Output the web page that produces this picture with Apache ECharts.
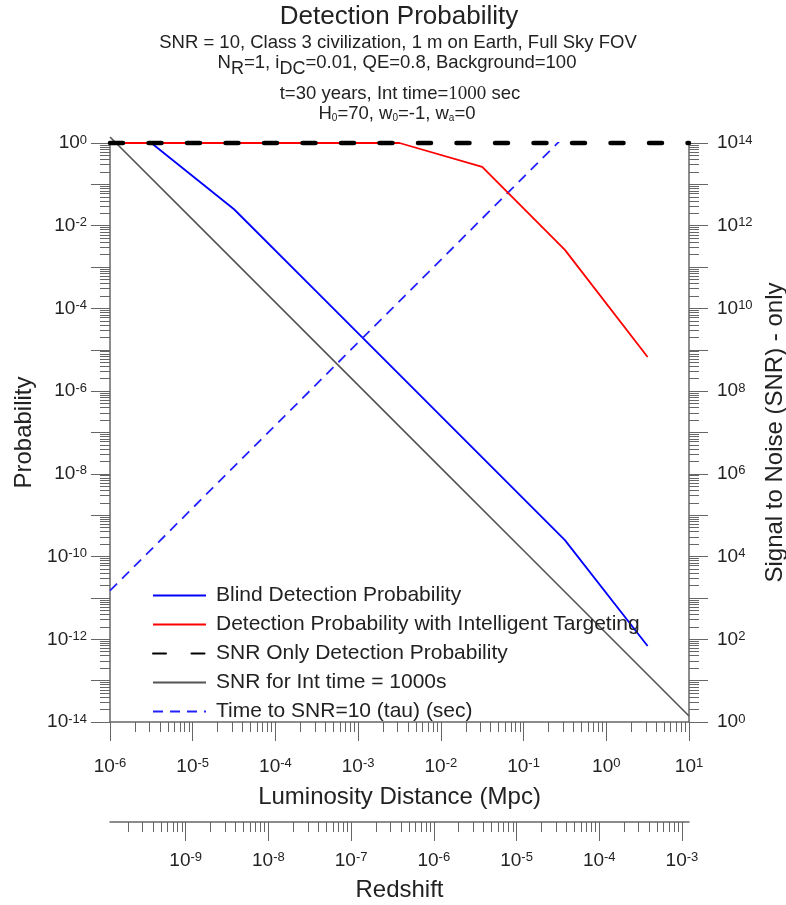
<!DOCTYPE html>
<html><head><meta charset="utf-8">
<script src="https://cdn.jsdelivr.net/npm/echarts@6/dist/echarts.min.js"></script>
<style>html,body{margin:0;padding:0;background:#fff}#c{width:786px;height:905px}</style>
</head><body><div id="c"></div>
<script>
// ---------------- data ----------------
const distance      = [1e-6, 3.16e-6, 3.16e-5, 3.16e-4, 3.16e-3, 3.16e-2, 0.316, 3.16];   // Mpc
const blindProb     = [1, 1, 0.025, 2.5e-4, 2.5e-6, 2.5e-8, 2.5e-10, 6.9e-13];
const targetedProb  = [1, 1, 1, 1, 1, 0.263, 2.6e-3, 6.7e-6];
const decadeDistance= [1e-6, 1e-5, 1e-4, 1e-3, 1e-2, 1e-1, 1, 10];                     // Mpc
const snrOnlyProb   = [1, 1, 1, 1, 1, 1, 1, 1];
const snrInt1000    = [1.4e14, 1.4e12, 1.4e10, 1.4e8, 1.4e6, 1.4e4, 140, 1.4];
const tauSec        = [1.5e3, 1.5e5, 1.5e7, 1.5e9, 1.5e11, 1.5e13, 1.5e15, 1.5e17];

// tick exponents (labels are 10^n)
const distExp     = [-6, -5, -4, -3, -2, -1, 0, 1];
const probExp     = [-14, -13, -12, -11, -10, -9, -8, -7, -6, -5, -4, -3, -2, -1, 0];
const probLabExp  = [-14, -12, -10, -8, -6, -4, -2, 0];
const snrExp      = [0, 1, 2, 3, 4, 5, 6, 7, 8, 9, 10, 11, 12, 13, 14];
const snrLabExp   = [0, 2, 4, 6, 8, 10, 12, 14];
const zExp        = [-9, -8, -7, -6, -5, -4, -3];
const zRangeExp   = [-9.915, -2.915];

const seriesNames = [
  'Blind Detection Probability',
  'Detection Probability with Intelligent Targeting',
  'SNR Only Detection Probability',
  'SNR for Int time = 1000s',
  'Time to SNR=10 (tau) (sec)'
];

// ---------------- helpers ----------------
const FONT = "'Liberation Sans', Arial, sans-serif";
const AXC = '#666';
const TXT = '#222';
function minorExps(lo, hi) {
  const out = [];
  for (let n = Math.floor(lo); n < hi; n++)
    for (let k = 2; k <= 9; k++) { const v = n + Math.log10(k); if (v > lo && v < hi) out.push(v); }
  return out;
}
function pairs(xs, ys) { return xs.map((x, i) => [x, ys[i]]); }
const labelRich = {
  b: { fontSize: 19, fontFamily: FONT, color: TXT, lineHeight: 19, padding: [5, 0, 0, 0], verticalAlign: 'bottom' },
  s: { fontSize: 13, fontFamily: FONT, color: TXT, lineHeight: 14, verticalAlign: 'top' }
};
const powFmt = v => '{b|10}{s|' + Math.round(v) + '}';

function majorAxis(base, ticks, labels, margin) {
  return Object.assign({
    type: 'value', show: true,
    axisLine: { show: true, onZero: false, lineStyle: { color: AXC, width: 1.5 } },
    axisTick: { show: true, inside: false, length: 19, customValues: ticks, lineStyle: { color: AXC, width: 1 } },
    axisLabel: { show: true, customValues: labels, formatter: powFmt, rich: labelRich, margin: margin },
    splitLine: { show: false }, minorTick: { show: false }
  }, base);
}
function minorAxis(base, ticks) {
  return Object.assign({
    type: 'value', show: true,
    axisLine: { show: false, onZero: false },
    axisTick: { show: true, inside: false, length: 10, customValues: ticks, lineStyle: { color: AXC, width: 1 } },
    axisLabel: { show: false },
    splitLine: { show: false }
  }, base);
}

const chart = echarts.init(document.getElementById('c'), null, { renderer: 'canvas' });

const option = {
  animation: false,
  backgroundColor: '#fff',
  textStyle: { fontFamily: FONT },
  grid: [
    { left: 110, top: 143, width: 579, height: 579, containLabel: false, outerBoundsMode: 'none' },
    { left: 110, top: 821, width: 579, height: 1, containLabel: false, outerBoundsMode: 'none' }
  ],
  xAxis: [
    // 0: data axis (log) for luminosity distance
    { type: 'log', gridIndex: 0, min: 1e-6, max: 10, show: false, axisLine: { onZero: false } },
    // 1: visible decade axis
    majorAxis({ gridIndex: 0, position: 'bottom', min: distExp[0], max: distExp[distExp.length - 1],
      name: 'Luminosity Distance (Mpc)', nameLocation: 'middle', nameGap: 63,
      nameTextStyle: { fontSize: 24, color: TXT, fontFamily: FONT } }, distExp, distExp, 35),
    // 2: minor ticks
    minorAxis({ gridIndex: 0, position: 'bottom', min: distExp[0], max: distExp[distExp.length - 1] },
      minorExps(distExp[0], distExp[distExp.length - 1])),
    // 3: redshift axis
    majorAxis({ gridIndex: 1, position: 'bottom', min: zRangeExp[0], max: zRangeExp[1],
      name: 'Redshift', nameLocation: 'middle', nameGap: 56,
      nameTextStyle: { fontSize: 24, color: TXT, fontFamily: FONT } }, zExp, zExp, 29),
    // 4: redshift minor ticks
    minorAxis({ gridIndex: 1, position: 'bottom', min: zRangeExp[0], max: zRangeExp[1] },
      minorExps(zRangeExp[0], zRangeExp[1]))
  ],
  yAxis: [
    // 0: probability data axis (log)
    { type: 'log', gridIndex: 0, min: 1e-14, max: 1, show: false, position: 'left', axisLine: { onZero: false } },
    // 1: SNR data axis (log)
    { type: 'log', gridIndex: 0, min: 1, max: 1e14, show: false, position: 'right', axisLine: { onZero: false } },
    // 2: visible left
    majorAxis({ gridIndex: 0, position: 'left', min: probExp[0], max: probExp[probExp.length - 1],
      name: 'Probability', nameLocation: 'middle', nameGap: 73, nameRotate: 90,
      nameTextStyle: { fontSize: 24, color: TXT, fontFamily: FONT } }, probExp, probLabExp, 23),
    minorAxis({ gridIndex: 0, position: 'left', min: probExp[0], max: probExp[probExp.length - 1] },
      minorExps(probExp[0], probExp[probExp.length - 1])),
    // 4: visible right
    majorAxis({ gridIndex: 0, position: 'right', min: snrExp[0], max: snrExp[snrExp.length - 1],
      name: 'Signal to Noise (SNR) - only', nameLocation: 'middle', nameGap: 69, nameRotate: 90,
      nameTextStyle: { fontSize: 24, color: TXT, fontFamily: FONT } }, snrExp, snrLabExp, 28),
    minorAxis({ gridIndex: 0, position: 'right', min: snrExp[0], max: snrExp[snrExp.length - 1] },
      minorExps(snrExp[0], snrExp[snrExp.length - 1])),
    // 6: dummy for redshift grid
    { type: 'value', gridIndex: 1, show: false, min: 0, max: 1 }
  ],
  legend: {
    data: seriesNames,
    orient: 'vertical', left: 152, top: 585, padding: 0,
    itemWidth: 53, itemHeight: 14, itemGap: 8,
    selectedMode: false,
    itemStyle: { opacity: 0 },
    textStyle: { fontSize: 21, color: TXT, fontFamily: FONT, padding: [0, 0, 0, 5] }
  },
  graphic: [
    { type: 'text', x: 399, y: 17, style: { text: 'Detection Probability', fontSize: 26, fontFamily: FONT, fill: TXT, align: 'center', verticalAlign: 'middle' } },
    { type: 'text', x: 398, y: 43, style: { text: 'SNR = 10, Class 3 civilization, 1 m on Earth, Full Sky FOV', fontSize: 18.5, fontFamily: FONT, fill: TXT, align: 'center', verticalAlign: 'middle' } },
    { type: 'text', x: 397, y: 63, style: {
        text: '{m|N}{sub|R}{m|=1, i}{sub|DC}{m|=0.01, QE=0.8, Background=100}',
        align: 'center', verticalAlign: 'middle', fill: TXT,
        rich: {
          m: { fontSize: 18.5, fontFamily: FONT, fill: TXT, lineHeight: 21, verticalAlign: 'middle' },
          sub: { fontSize: 18, fontFamily: FONT, fill: TXT, lineHeight: 21, padding: [13, 0, 0, 0], verticalAlign: 'middle' }
        } } },
    { type: 'text', x: 400, y: 94, style: {
        text: '{m|t=30 years, Int time=}{sf|1000}{m| sec}',
        align: 'center', verticalAlign: 'middle', fill: TXT,
        rich: {
          m: { fontSize: 18.5, fontFamily: FONT, fill: TXT, lineHeight: 21, verticalAlign: 'middle' },
          sf: { fontSize: 19, fontFamily: "'Liberation Serif', 'Times New Roman', serif", fill: TXT, lineHeight: 21, verticalAlign: 'middle' }
        } } },
    { type: 'text', x: 397, y: 114, style: {
        text: '{m|H}{s|0}{m|=70, w}{s|0}{m|=-1, w}{s|a}{m|=0}',
        align: 'center', verticalAlign: 'middle', fill: TXT,
        rich: {
          m: { fontSize: 18.5, fontFamily: FONT, fill: TXT, lineHeight: 21, verticalAlign: 'middle' },
          s: { fontSize: 10, fontFamily: FONT, fill: TXT, lineHeight: 10, padding: [8, 0, 0, 0], verticalAlign: 'middle' }
        } } }
  ],
  series: [
    { name: seriesNames[0], type: 'line', xAxisIndex: 0, yAxisIndex: 0, data: pairs(distance, blindProb),
      symbol: 'none', showSymbol: false, clip: false, z: 2,
      lineStyle: { color: '#0000ff', width: 1.8 }, itemStyle: { color: '#0000ff' } },
    { name: seriesNames[1], type: 'line', xAxisIndex: 0, yAxisIndex: 0, data: pairs(distance, targetedProb),
      symbol: 'none', showSymbol: false, clip: false, z: 3,
      lineStyle: { color: '#ff0000', width: 1.8 }, itemStyle: { color: '#ff0000' } },
    { name: seriesNames[2], type: 'line', xAxisIndex: 0, yAxisIndex: 0, data: pairs(decadeDistance, snrOnlyProb),
      symbol: 'none', showSymbol: false, clip: false, z: 5,
      lineStyle: { color: '#000000', width: 4.5, type: [13, 25.5], cap: 'round' }, itemStyle: { color: '#000000' } },
    { name: seriesNames[3], type: 'line', xAxisIndex: 0, yAxisIndex: 1, data: pairs(decadeDistance, snrInt1000),
      symbol: 'none', showSymbol: false, clip: false, z: 2,
      lineStyle: { color: '#555555', width: 1.6 }, itemStyle: { color: '#555555' } },
    { name: seriesNames[4], type: 'line', xAxisIndex: 0, yAxisIndex: 1, data: pairs(decadeDistance, tauSec),
      symbol: 'none', showSymbol: false, clip: true, z: 2,
      lineStyle: { color: '#2222ff', width: 1.8, type: [10, 7] }, itemStyle: { color: '#2222ff' } }
  ]
};
chart.setOption(option);
</script>
</body></html>
